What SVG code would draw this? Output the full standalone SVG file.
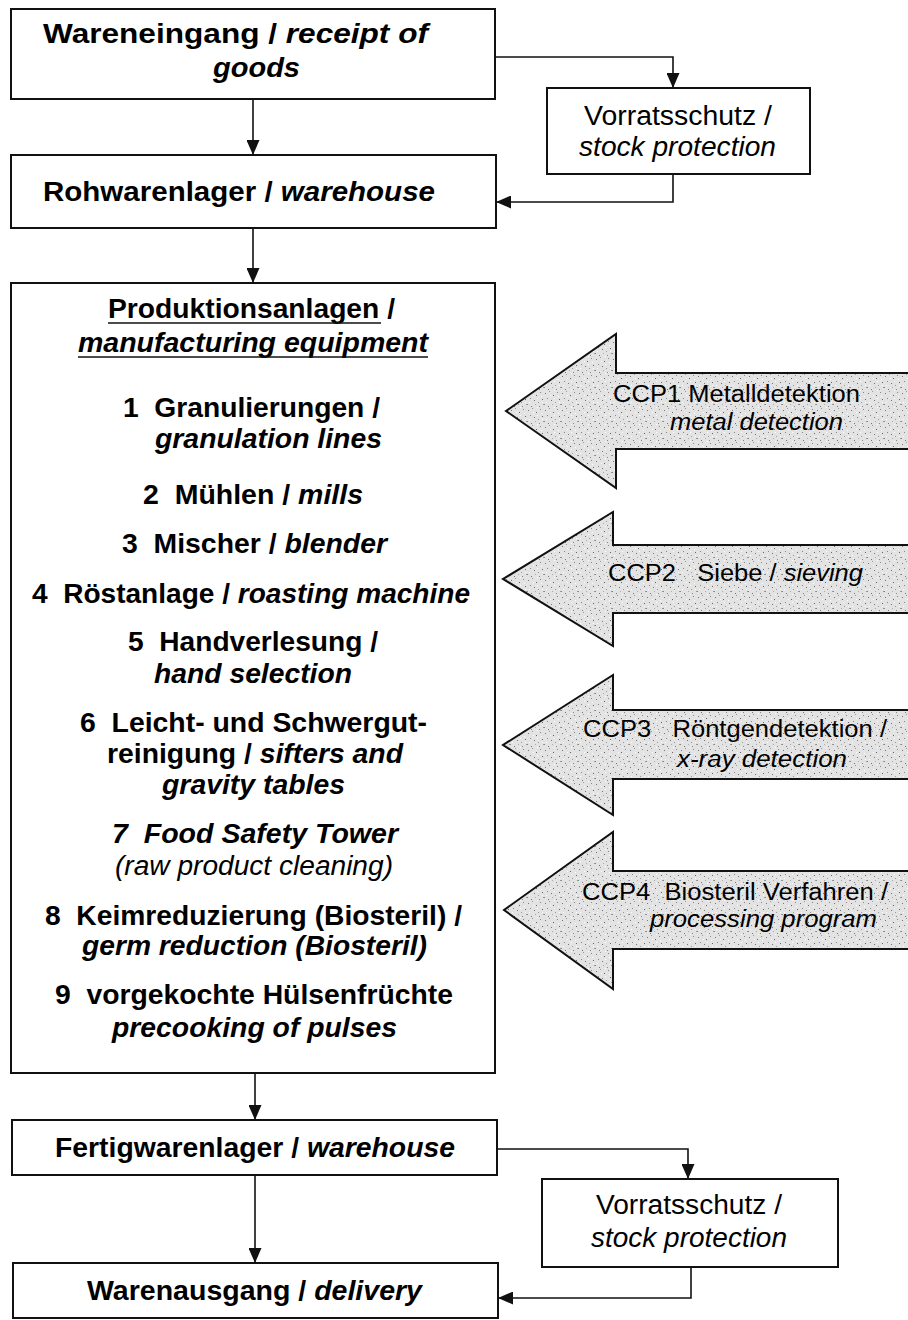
<svg xmlns="http://www.w3.org/2000/svg" width="908" height="1320" viewBox="0 0 908 1320" xml:space="preserve">
<style>
text{white-space:pre}
.box{fill:#fff;stroke:#111;stroke-width:2}
.con{fill:none;stroke:#111;stroke-width:1.6}
.b{font-family:"Liberation Sans",Arial,sans-serif;font-weight:bold;font-size:27px;fill:#000}
.r{font-family:"Liberation Sans",Arial,sans-serif;font-size:27px;fill:#000}
.c{font-family:"Liberation Sans",Arial,sans-serif;font-size:23px;fill:#000}
.i{font-style:italic}
.ccp{fill:url(#stip);stroke:#111;stroke-width:2}
.ul{stroke:#111;stroke-width:1.6}
</style>
<defs>
<marker id="ah" markerWidth="15" markerHeight="13" refX="15" refY="6.5" orient="auto" markerUnits="userSpaceOnUse"><path d="M0,0 L15,6.5 L0,13 z" fill="#111"/></marker>
<pattern id="stip" width="17" height="17" patternUnits="userSpaceOnUse">
<rect width="17" height="17" fill="#e3e3e3"/>
<rect x="1" y="2" width="1" height="1" fill="#777"/><rect x="5" y="0" width="1" height="1" fill="#999"/><rect x="9" y="4" width="1" height="1" fill="#666"/><rect x="13" y="1" width="1" height="1" fill="#888"/><rect x="3" y="7" width="1" height="1" fill="#888"/><rect x="7" y="9" width="1" height="1" fill="#777"/><rect x="11" y="11" width="1" height="1" fill="#999"/><rect x="15" y="8" width="1" height="1" fill="#666"/><rect x="0" y="13" width="1" height="1" fill="#888"/><rect x="4" y="15" width="1" height="1" fill="#777"/><rect x="12" y="15" width="1" height="1" fill="#888"/><rect x="16" y="13" width="1" height="1" fill="#999"/><rect x="8" y="13" width="1" height="1" fill="#aaa"/><rect x="6" y="4" width="1" height="1" fill="#fff"/><rect x="14" y="5" width="1" height="1" fill="#fff"/><rect x="2" y="11" width="1" height="1" fill="#fff"/><rect x="10" y="7" width="1" height="1" fill="#fff"/><rect x="10" y="16" width="1" height="1" fill="#fff"/><rect x="15" y="11" width="1" height="1" fill="#fff"/>
</pattern>
</defs>

<g id="connectors">
<line class="con" x1="253" y1="99" x2="253" y2="155" marker-end="url(#ah)"/>
<polyline class="con" points="495,57 673,57 673,88" marker-end="url(#ah)"/>
<polyline class="con" points="673,174 673,202 496,202" marker-end="url(#ah)"/>
<line class="con" x1="253" y1="228" x2="253" y2="283" marker-end="url(#ah)"/>
<line class="con" x1="255" y1="1073" x2="255" y2="1120" marker-end="url(#ah)"/>
<polyline class="con" points="497,1149 688,1149 688,1179" marker-end="url(#ah)"/>
<polyline class="con" points="691,1267 691,1298 498,1298" marker-end="url(#ah)"/>
<line class="con" x1="255" y1="1175" x2="255" y2="1263" marker-end="url(#ah)"/>
</g>

<g id="wareneingang">
<rect class="box" x="11" y="9" width="484" height="90"/>
<text class="b" x="43" y="43" textLength="385" lengthAdjust="spacingAndGlyphs">Wareneingang / <tspan class="i">receipt of</tspan></text>
<text class="b i" x="213" y="77" textLength="87" lengthAdjust="spacingAndGlyphs">goods</text>
</g>

<g id="vorratsschutz1">
<rect class="box" x="547" y="88" width="263" height="86"/>
<text class="r" x="584" y="125" textLength="188" lengthAdjust="spacingAndGlyphs">Vorratsschutz /</text>
<text class="r i" x="579" y="156" textLength="197" lengthAdjust="spacingAndGlyphs">stock protection</text>
</g>

<g id="rohwarenlager">
<rect class="box" x="11" y="155" width="485" height="73"/>
<text class="b" x="43" y="201" textLength="392" lengthAdjust="spacingAndGlyphs">Rohwarenlager / <tspan class="i">warehouse</tspan></text>
</g>

<g id="produktionsanlagen">
<rect class="box" x="11" y="283" width="484" height="790"/>
<text class="b" x="108" y="318" textLength="287" lengthAdjust="spacingAndGlyphs">Produktionsanlagen /</text>
<line class="ul" x1="108" y1="323" x2="381" y2="323"/>
<text class="b i" x="78" y="352" textLength="350" lengthAdjust="spacingAndGlyphs">manufacturing equipment</text>
<line class="ul" x1="78" y1="357" x2="428" y2="357"/>
<text class="b" x="123" y="417" textLength="257" lengthAdjust="spacingAndGlyphs">1  Granulierungen /</text>
<text class="b i" x="155" y="448" textLength="227" lengthAdjust="spacingAndGlyphs">granulation lines</text>
<text class="b" x="143" y="504" textLength="220" lengthAdjust="spacingAndGlyphs">2  Mühlen / <tspan class="i">mills</tspan></text>
<text class="b" x="122" y="553" textLength="265" lengthAdjust="spacingAndGlyphs">3  Mischer / <tspan class="i">blender</tspan></text>
<text class="b" x="32" y="603" textLength="438" lengthAdjust="spacingAndGlyphs">4  Röstanlage / <tspan class="i">roasting machine</tspan></text>
<text class="b" x="128" y="651" textLength="250" lengthAdjust="spacingAndGlyphs">5  Handverlesung /</text>
<text class="b i" x="154" y="683" textLength="198" lengthAdjust="spacingAndGlyphs">hand selection</text>
<text class="b" x="80" y="732" textLength="347" lengthAdjust="spacingAndGlyphs">6  Leicht- und Schwergut-</text>
<text class="b" x="107" y="763" textLength="296" lengthAdjust="spacingAndGlyphs">reinigung / <tspan class="i">sifters and</tspan></text>
<text class="b i" x="162" y="794" textLength="183" lengthAdjust="spacingAndGlyphs">gravity tables</text>
<text class="b i" x="112" y="843" textLength="286" lengthAdjust="spacingAndGlyphs">7  Food Safety Tower</text>
<text class="r i" x="115" y="875" textLength="278" lengthAdjust="spacingAndGlyphs">(raw product cleaning)</text>
<text class="b" x="45" y="925" textLength="417" lengthAdjust="spacingAndGlyphs">8  Keimreduzierung (Biosteril) /</text>
<text class="b i" x="82" y="955" textLength="345" lengthAdjust="spacingAndGlyphs">germ reduction (Biosteril)</text>
<text class="b" x="55" y="1004" textLength="398" lengthAdjust="spacingAndGlyphs">9  vorgekochte Hülsenfrüchte</text>
<text class="b i" x="112" y="1037" textLength="285" lengthAdjust="spacingAndGlyphs">precooking of pulses</text>
</g>

<g id="ccp1">
<polygon class="ccp" points="915,373 616,373 616,334 506,411 616,488 616,449 915,449"/>
<text class="c" x="613" y="402" textLength="247" lengthAdjust="spacingAndGlyphs">CCP1 Metalldetektion</text>
<text class="c i" x="670" y="430" textLength="173" lengthAdjust="spacingAndGlyphs">metal detection</text>
</g>

<g id="ccp2">
<polygon class="ccp" points="915,545 613,545 613,512 503,579 613,646 613,613 915,613"/>
<text class="c" x="608" y="581" textLength="255" lengthAdjust="spacingAndGlyphs">CCP2   Siebe / <tspan class="i">sieving</tspan></text>
</g>

<g id="ccp3">
<polygon class="ccp" points="915,710 613,710 613,675 503,745 613,815 613,779 915,779"/>
<text class="c" x="583" y="737" textLength="304" lengthAdjust="spacingAndGlyphs">CCP3   Röntgendetektion /</text>
<text class="c i" x="677" y="767" textLength="170" lengthAdjust="spacingAndGlyphs">x-ray detection</text>
</g>

<g id="ccp4">
<polygon class="ccp" points="915,871 613,871 613,832 504,910 613,989 613,949 915,949"/>
<text class="c" x="582" y="900" textLength="306" lengthAdjust="spacingAndGlyphs">CCP4  Biosteril Verfahren /</text>
<text class="c i" x="650" y="927" textLength="227" lengthAdjust="spacingAndGlyphs">processing program</text>
</g>

<g id="fertigwarenlager">
<rect class="box" x="12" y="1120" width="485" height="55"/>
<text class="b" x="55" y="1157" textLength="400" lengthAdjust="spacingAndGlyphs">Fertigwarenlager / <tspan class="i">warehouse</tspan></text>
</g>

<g id="vorratsschutz2">
<rect class="box" x="542" y="1179" width="296" height="88"/>
<text class="r" x="596" y="1214" textLength="186" lengthAdjust="spacingAndGlyphs">Vorratsschutz /</text>
<text class="r i" x="591" y="1247" textLength="196" lengthAdjust="spacingAndGlyphs">stock protection</text>
</g>

<g id="warenausgang">
<rect class="box" x="13" y="1263" width="485" height="55"/>
<text class="b" x="87" y="1300" textLength="335" lengthAdjust="spacingAndGlyphs">Warenausgang / <tspan class="i">delivery</tspan></text>
</g>
</svg>
